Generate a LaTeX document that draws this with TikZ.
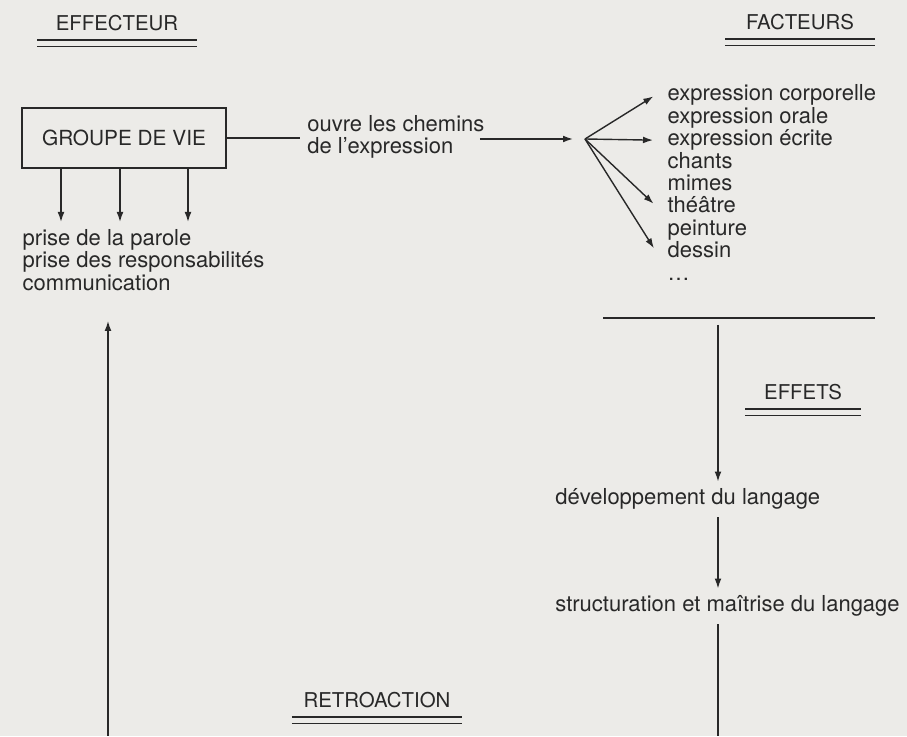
\documentclass[tikz,border=0pt]{standalone}
\usepackage{fontspec}
\setmainfont{TeX Gyre Heros}
\usetikzlibrary{arrows.meta}
\definecolor{fond}{RGB}{236,235,232}
\definecolor{encre}{RGB}{40,40,40}
\begin{document}
\begin{tikzpicture}[
    x=0.5pt, y=-0.5pt,
    color=encre, line width=0.7pt,
    >={Latex[length=5pt,width=3.4pt]},
    every node/.style={font=\fontsize{11pt}{11.2pt}\selectfont, text=encre},
    titre/.style={anchor=base, inner xsep=9pt, inner ysep=0pt, font=\fontsize{10.2pt}{11pt}\selectfont},
    liste/.style={anchor=base west, inner xsep=6pt}
]
\path[fill=fond] (0,0) rectangle (907,736);

% titres soulignes deux fois
\node[titre] (effecteur) at (117,31) {EFFECTEUR};
\node[titre, inner xsep=10pt] (facteurs) at (800,30) {FACTEURS};
\node[titre] (effets) at (803,400) {EFFETS};
\node[titre, inner xsep=5.5pt] (retro) at (377,708) {RETROACTION};
\foreach \n in {effecteur,facteurs,effets,retro}
    \draw ([yshift=-4.5pt]\n.base west) -- ([yshift=-4.5pt]\n.base east)
          ([yshift=-7.75pt]\n.base west) -- ([yshift=-7.75pt]\n.base east);

% effecteur
\node[draw, line width=0.9pt, minimum width=102pt, minimum height=30pt,
      font=\fontsize{10.4pt}{11pt}\selectfont] (groupe) at (124,138) {GROUPE DE VIE};
\node[anchor=west, align=left] (chemins) at (300,137) {ouvre les chemins\\de l'expression};
\coordinate (fan) at (585,139);
\draw (groupe.east) -- (groupe.east -| chemins.west);
\draw[->, shorten <=-6pt, shorten >=6pt] (chemins.east |- fan) -- (fan);

% facteurs
\foreach \t [count=\i] in {expression corporelle, expression orale, expression écrite,
                            chants, mimes, théâtre, peinture, dessin, \ldots}
    \node[liste] (f\i) at (655,{101+22.4*(\i-1)}) {\t};
\foreach \i in {1,3,6,8}
    \draw[->, shorten >=1pt] (fan) -- (f\i.west);

\node[anchor=north west, align=left, inner xsep=0pt] (prise) at (22,222)
    {prise de la parole\\prise des responsabilités\\communication};
\foreach \x in {61,120,188}
    \draw[->] (\x,0 |- groupe.south) -- (\x,0 |- prise.north);

% retroaction
\coordinate (bas1) at (108,736);
\draw[->, shorten >=11.5pt] (bas1) -- (bas1 |- prise.south);

% effets
\coordinate (barre1) at (603,318);
\coordinate (barre2) at (875,318);
\coordinate (axe) at (718,0);
\coordinate (bas2) at (718,736);
\draw (barre1) -- (barre2);
\node[anchor=base west] (dev) at (548,505) {développement du langage};
\node[anchor=base west] (struct) at (548,612) {structuration et maîtrise du langage};
\draw[->, shorten <=3.5pt] (axe |- barre1) -- (axe |- dev.north);
\draw[->] (axe |- dev.south) -- (axe |- struct.north);
\draw (axe |- struct.south) -- (bas2);
\end{tikzpicture}
\end{document}
